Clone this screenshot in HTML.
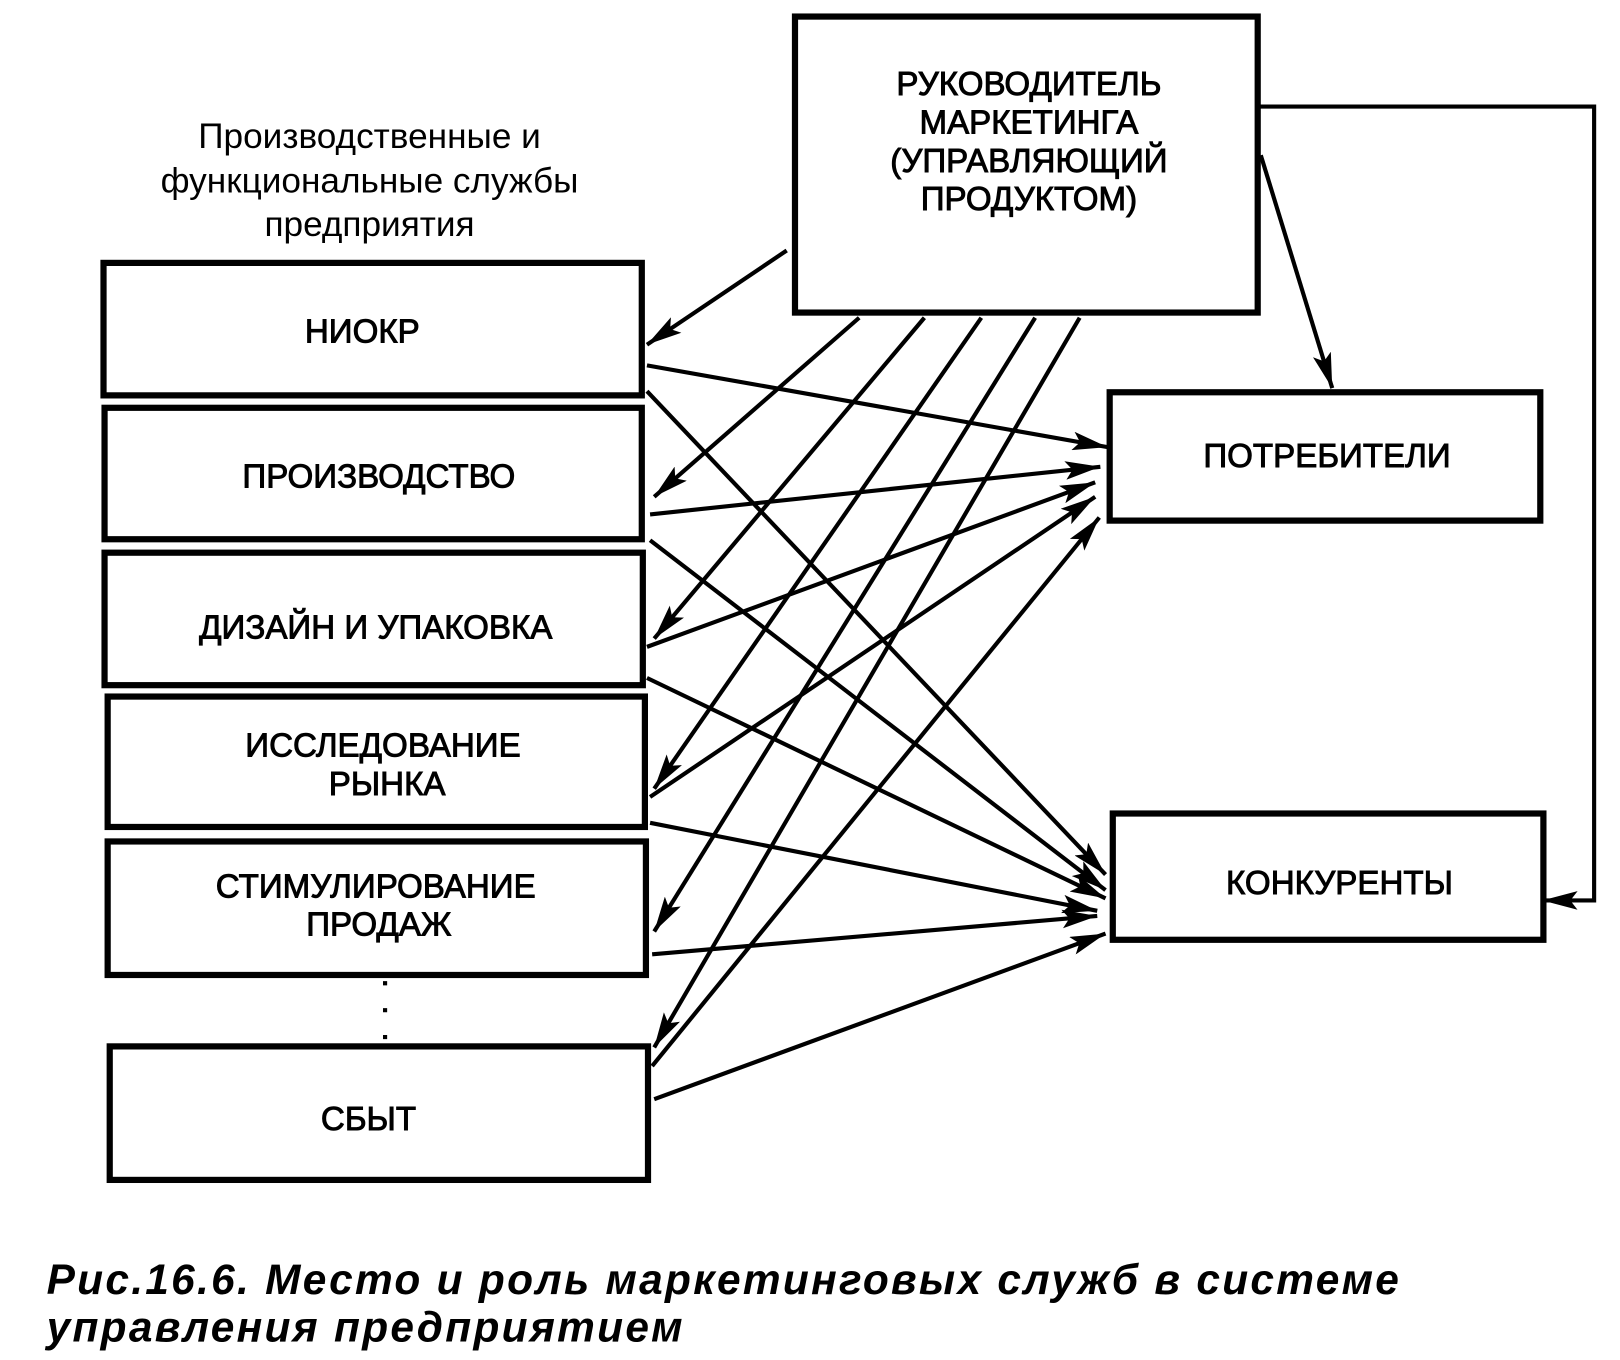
<!DOCTYPE html>
<html><head><meta charset="utf-8"><style>
html,body{margin:0;padding:0;background:#fff;}
svg{display:block;}
text{font-family:"Liberation Sans",sans-serif;fill:#000;}
</style></head><body>
<svg width="1620" height="1360" viewBox="0 0 1565 1314" preserveAspectRatio="none" xmlns="http://www.w3.org/2000/svg">
<defs>
<marker id="ar" viewBox="0 0 34 18" refX="34" refY="9" markerWidth="34" markerHeight="18" orient="auto" markerUnits="userSpaceOnUse"><path d="M0,0 L34,9 L0,18 L7,9 z" fill="#000"/></marker>
</defs>
<g fill="none" stroke="#000" stroke-width="6">
<rect x="768" y="16" width="447" height="286"/>
<rect x="100" y="254" width="520" height="128"/>
<rect x="101" y="394" width="519" height="127"/>
<rect x="101" y="534" width="520" height="128"/>
<rect x="104" y="673" width="519" height="126"/>
<rect x="104" y="813" width="520" height="129"/>
<rect x="106" y="1011" width="520" height="129"/>
<rect x="1072" y="379" width="416" height="124"/>
<rect x="1075" y="786" width="416" height="122"/>
</g>
<line x1="372" y1="948" x2="372" y2="1008" stroke="#000" stroke-width="4" stroke-dasharray="4,22"/>
<g stroke="#000" stroke-width="4" fill="none" marker-end="url(#ar)">
<line x1="760" y1="242" x2="625" y2="333"/>
<line x1="830" y1="307" x2="632" y2="480"/>
<line x1="893" y1="307" x2="632" y2="617"/>
<line x1="948" y1="307" x2="632" y2="762"/>
<line x1="1000" y1="307" x2="632" y2="900"/>
<line x1="1043" y1="307" x2="632" y2="1012"/>
<line x1="625" y1="353" x2="1070" y2="432"/>
<line x1="628" y1="497" x2="1063" y2="451"/>
<line x1="625" y1="625" x2="1058" y2="466"/>
<line x1="628" y1="770" x2="1058" y2="480"/>
<line x1="630" y1="1030" x2="1062" y2="500"/>
<line x1="625" y1="378" x2="1068" y2="845"/>
<line x1="628" y1="522" x2="1068" y2="860"/>
<line x1="625" y1="655" x2="1068" y2="868"/>
<line x1="628" y1="795" x2="1060" y2="880"/>
<line x1="630" y1="922" x2="1060" y2="885"/>
<line x1="632" y1="1062" x2="1068" y2="902"/>
<line x1="1218" y1="150" x2="1287" y2="375"/>
<polyline points="1215,103 1540,103 1540,870 1490,870"/>
</g>
<g font-size="32" text-anchor="middle" stroke="#000" stroke-width="0.9">
<text x="994" y="92">РУКОВОДИТЕЛЬ</text>
<text x="994" y="129">МАРКЕТИНГА</text>
<text x="994" y="166">(УПРАВЛЯЮЩИЙ</text>
<text x="994" y="203">ПРОДУКТОМ)</text>
<text x="350" y="331">НИОКР</text>
<text x="366" y="471">ПРОИЗВОДСТВО</text>
<text x="363" y="617">ДИЗАЙН И УПАКОВКА</text>
<text x="370" y="731">ИССЛЕДОВАНИЕ</text>
<text x="374" y="768">РЫНКА</text>
<text x="363" y="867">СТИМУЛИРОВАНИЕ</text>
<text x="366" y="904">ПРОДАЖ</text>
<text x="356" y="1092">СБЫТ</text>
<text x="1282" y="451">ПОТРЕБИТЕЛИ</text>
<text x="1294" y="864">КОНКУРЕНТЫ</text>
</g>
<g font-size="34" text-anchor="middle">
<text x="357" y="143">Производственные и</text>
<text x="357" y="186">функциональные службы</text>
<text x="357" y="228">предприятия</text>
</g>
<g font-size="41" font-weight="bold" font-style="italic" letter-spacing="2.2">
<text x="45" y="1250">Рис.16.6. Место и роль маркетинговых служб в системе</text>
<text x="45" y="1296">управления предприятием</text>
</g>
</svg>
</body></html>
